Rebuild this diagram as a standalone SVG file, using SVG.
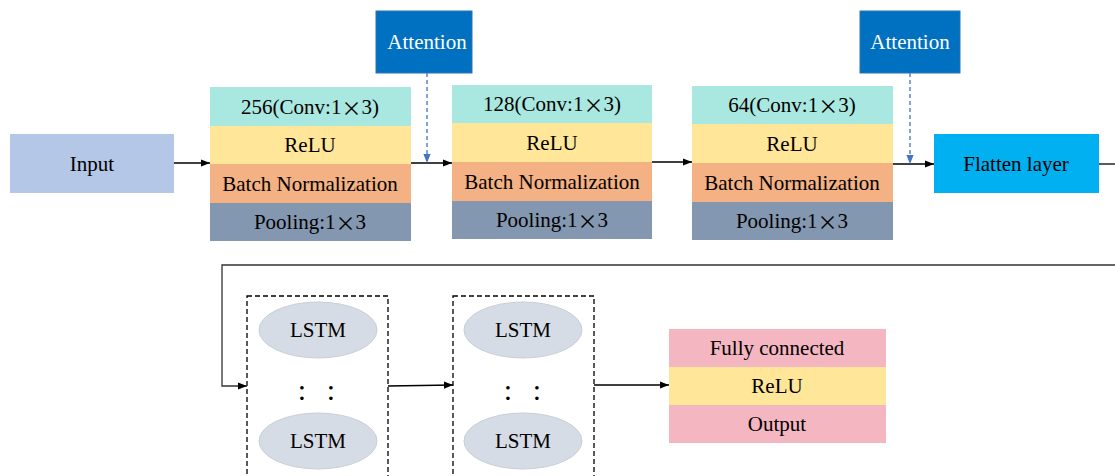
<svg xmlns="http://www.w3.org/2000/svg" width="1115" height="476" viewBox="0 0 1115 476">
<defs>
<marker id="ah" viewBox="0 0 10 10" refX="10" refY="5" markerWidth="9" markerHeight="9" markerUnits="userSpaceOnUse" orient="auto"><path d="M0,1 L10,5 L0,9 z" fill="#000"/></marker>
<marker id="ahb" viewBox="0 0 10 10" refX="10" refY="5" markerWidth="9" markerHeight="9" markerUnits="userSpaceOnUse" orient="auto"><path d="M0,1 L10,5 L0,9 z" fill="#4472C4"/></marker>
</defs>
<style>
text{font-family:"Liberation Serif","Times New Roman",serif;font-size:21px;fill:#000;text-anchor:middle;dominant-baseline:central}
.w{fill:#fff}
.x{font-family:"Noto Sans CJK SC",sans-serif;font-size:20px}
.d{font-size:30px}
.conv{fill:#A9E8E1}
.relu{fill:#FFE699}
.bn{fill:#F4B183}
.pool{fill:#8497B0}
.pink{fill:#F4B6C0}
.att{fill:#0070C0;stroke:#2E75B6;stroke-width:1}
.ell{fill:#D6DCE5;stroke:#C9CED6;stroke-width:1}
.dash{fill:none;stroke:#000;stroke-width:1.3;stroke-dasharray:5,3}
.con{fill:none;stroke:#000;stroke-width:1.3}
.bd{fill:none;stroke:#4472C4;stroke-width:1.3;stroke-dasharray:4,3}
</style>
<rect width="1115" height="476" fill="#fff"/>
<g id="input"><rect x="10" y="134" width="164" height="59" fill="#B4C7E7"/><text x="92" y="164">Input</text></g>
<g id="block1">
<rect class="conv" x="210" y="87" width="201" height="39"/><text x="310" y="107">256(Conv:1<tspan class="x">×</tspan>3)</text>
<rect class="relu" x="210" y="126" width="201" height="38"/><text x="310" y="145">ReLU</text>
<rect class="bn" x="210" y="164" width="201" height="39"/><text x="310" y="184">Batch Normalization</text>
<rect class="pool" x="210" y="203" width="201" height="38"/><text x="310" y="222">Pooling:1<tspan class="x">×</tspan>3</text>
</g>
<g id="block2">
<rect class="conv" x="452" y="85" width="200" height="38"/><text x="552" y="104">128(Conv:1<tspan class="x">×</tspan>3)</text>
<rect class="relu" x="452" y="123" width="200" height="39"/><text x="552" y="143">ReLU</text>
<rect class="bn" x="452" y="162" width="200" height="39"/><text x="552" y="182">Batch Normalization</text>
<rect class="pool" x="452" y="201" width="200" height="38"/><text x="552" y="220">Pooling:1<tspan class="x">×</tspan>3</text>
</g>
<g id="block3">
<rect class="conv" x="692" y="86" width="201" height="38"/><text x="792" y="105">64(Conv:1<tspan class="x">×</tspan>3)</text>
<rect class="relu" x="692" y="124" width="201" height="39"/><text x="792" y="144">ReLU</text>
<rect class="bn" x="692" y="163" width="201" height="39"/><text x="792" y="183">Batch Normalization</text>
<rect class="pool" x="692" y="202" width="201" height="38"/><text x="792" y="221">Pooling:1<tspan class="x">×</tspan>3</text>
</g>
<g id="attention1"><rect class="att" x="376" y="11" width="96" height="62"/><text class="w" x="427" y="42">Attention</text></g>
<g id="attention2"><rect class="att" x="860" y="11" width="100" height="62"/><text class="w" x="910" y="42">Attention</text></g>
<g id="flatten"><rect x="934" y="134" width="165" height="59" fill="#00B0F0"/><text x="1016" y="164">Flatten layer</text></g>
<g id="lstm1">
<rect class="dash" x="247" y="296" width="141" height="184"/>
<ellipse class="ell" cx="318" cy="330" rx="59" ry="28"/><text x="318" y="330">LSTM</text>
<text class="d" x="302" y="389">:</text><text class="d" x="331" y="389">:</text>
<ellipse class="ell" cx="318" cy="441" rx="59" ry="28"/><text x="318" y="441">LSTM</text>
</g>
<g id="lstm2">
<rect class="dash" x="453" y="296" width="141" height="184"/>
<ellipse class="ell" cx="523" cy="330" rx="59" ry="28"/><text x="523" y="330">LSTM</text>
<text class="d" x="508" y="389">:</text><text class="d" x="537" y="389">:</text>
<ellipse class="ell" cx="523" cy="441" rx="59" ry="28"/><text x="523" y="441">LSTM</text>
</g>
<g id="fc">
<rect class="pink" x="669" y="329" width="217" height="38"/><text x="777" y="348">Fully connected</text>
<rect class="relu" x="669" y="367" width="217" height="38"/><text x="777" y="386">ReLU</text>
<rect class="pink" x="669" y="405" width="217" height="38"/><text x="777" y="424">Output</text>
</g>
<g id="connectors">
<line class="con" x1="174" y1="163" x2="210" y2="163" marker-end="url(#ah)"/>
<line class="con" x1="411" y1="163" x2="452" y2="163" marker-end="url(#ah)"/>
<line class="con" x1="652" y1="162" x2="692" y2="162" marker-end="url(#ah)"/>
<line class="con" x1="893" y1="164" x2="934" y2="164" marker-end="url(#ah)"/>
<line class="con" x1="1099" y1="164" x2="1115" y2="164"/>
<line class="bd" x1="427" y1="73" x2="427" y2="163" marker-end="url(#ahb)"/>
<line class="bd" x1="910" y1="73" x2="910" y2="164" marker-end="url(#ahb)"/>
<polyline class="con" points="1115,265 222,265 222,386 247,386" marker-end="url(#ah)" style="stroke:#333"/>
<line class="con" x1="388" y1="386" x2="453" y2="385" marker-end="url(#ah)"/>
<line class="con" x1="594" y1="385" x2="669" y2="385" marker-end="url(#ah)"/>
</g>
</svg>
